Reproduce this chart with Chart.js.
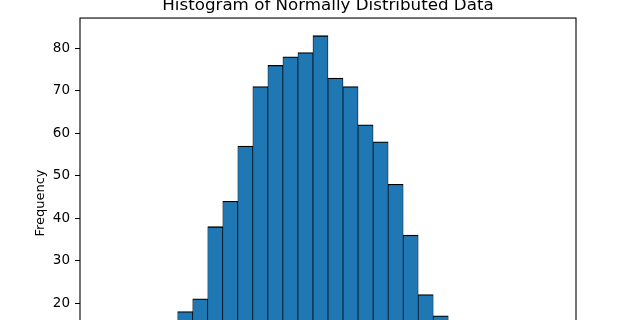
<!DOCTYPE html>
<html>
<head>
<meta charset="utf-8">
<script src="https://cdn.jsdelivr.net/npm/chart.js@4.4.1/dist/chart.umd.min.js"></script>
<style>
  html, body { margin: 0; padding: 0; background: #fff; overflow: hidden; }
  #wrap { position: relative; width: 640px; height: 320px; overflow: hidden; }
  #chart { position: absolute; left: 0; top: -40px; }
</style>
</head>
<body>
<div id="wrap"><canvas id="chart" width="640" height="480"></canvas></div>
<script>
// ==========================================
// DATA (30 bins; tails below the crop are estimates)
// ==========================================
const chartTitle = 'Histogram of Normally Distributed Data';
const yLabel = 'Frequency';
const counts = [1, 2, 3, 6, 10, 18, 21, 38, 44, 57, 71, 76, 78, 79, 83,
                73, 71, 62, 58, 48, 36, 22, 17, 10, 7, 4, 2, 1, 1, 1];
const yTicks = [0, 10, 20, 30, 40, 50, 60, 70, 80];

// bin centres in bin-index units, matplotlib style 5% margins
const binCenters = counts.map((_, i) => i + 0.5);
const xMargin = counts.length * 0.05;
const yMax = Math.max(...counts) * 1.05;

const FONT = 'DejaVu Sans';

// box round the axes like matplotlib spines
const framePlugin = {
    id: 'frame',
    afterDraw(chart) {
        const a = chart.chartArea;
        const ctx = chart.ctx;
        ctx.save();
        ctx.strokeStyle = '#000';
        ctx.lineWidth = 1.1;
        ctx.strokeRect(a.left, a.top, a.right - a.left, a.bottom - a.top);
        ctx.restore();
    }
};

new Chart(document.getElementById('chart'), {
    type: 'bar',
    data: {
        datasets: [{
            data: binCenters.map((x, i) => ({ x: x, y: counts[i] })),
            backgroundColor: '#1f77b4',
            borderColor: '#000',
            borderWidth: { top: 1.3, left: 0.7, right: 0.7, bottom: 0 },
            barPercentage: 1,
            categoryPercentage: 1
        }]
    },
    options: {
        responsive: false,
        devicePixelRatio: 1,
        animation: false,
        layout: { padding: { left: 16, right: 0, top: 0, bottom: 0 } },
        plugins: {
            legend: { display: false },
            tooltip: { enabled: false },
            title: {
                display: true,
                text: chartTitle,
                color: '#000',
                font: { family: FONT, size: 16.7, weight: 'normal' },
                padding: { top: 36, bottom: 2 }
            }
        },
        scales: {
            x: {
                type: 'linear',
                offset: false,
                min: -xMargin,
                max: counts.length + xMargin,
                ticks: { display: false },
                grid: { display: false },
                border: { display: false },
                afterFit(scale) { scale.height = 52; }
            },
            y: {
                min: 0,
                max: yMax,
                afterBuildTicks(scale) { scale.ticks = yTicks.map(v => ({ value: v })); },
                ticks: {
                    color: '#000',
                    padding: 5,
                    font: { family: FONT, size: 13.5 }
                },
                grid: {
                    drawOnChartArea: false,
                    drawTicks: true,
                    tickLength: 5,
                    color: '#000'
                },
                border: { display: false },
                title: {
                    display: true,
                    text: yLabel,
                    color: '#000',
                    font: { family: FONT, size: 13 },
                    padding: { top: 17, bottom: 0 }
                },
                afterFit(scale) { scale.width = 64; }
            },
            // empty right-hand box so the title centres over the plot
            yRight: {
                position: 'right',
                display: true,
                ticks: { display: false },
                grid: { display: false },
                border: { display: false },
                afterFit(scale) { scale.width = 64; }
            }
        }
    },
    plugins: [framePlugin]
});
</script>
</body>
</html>
